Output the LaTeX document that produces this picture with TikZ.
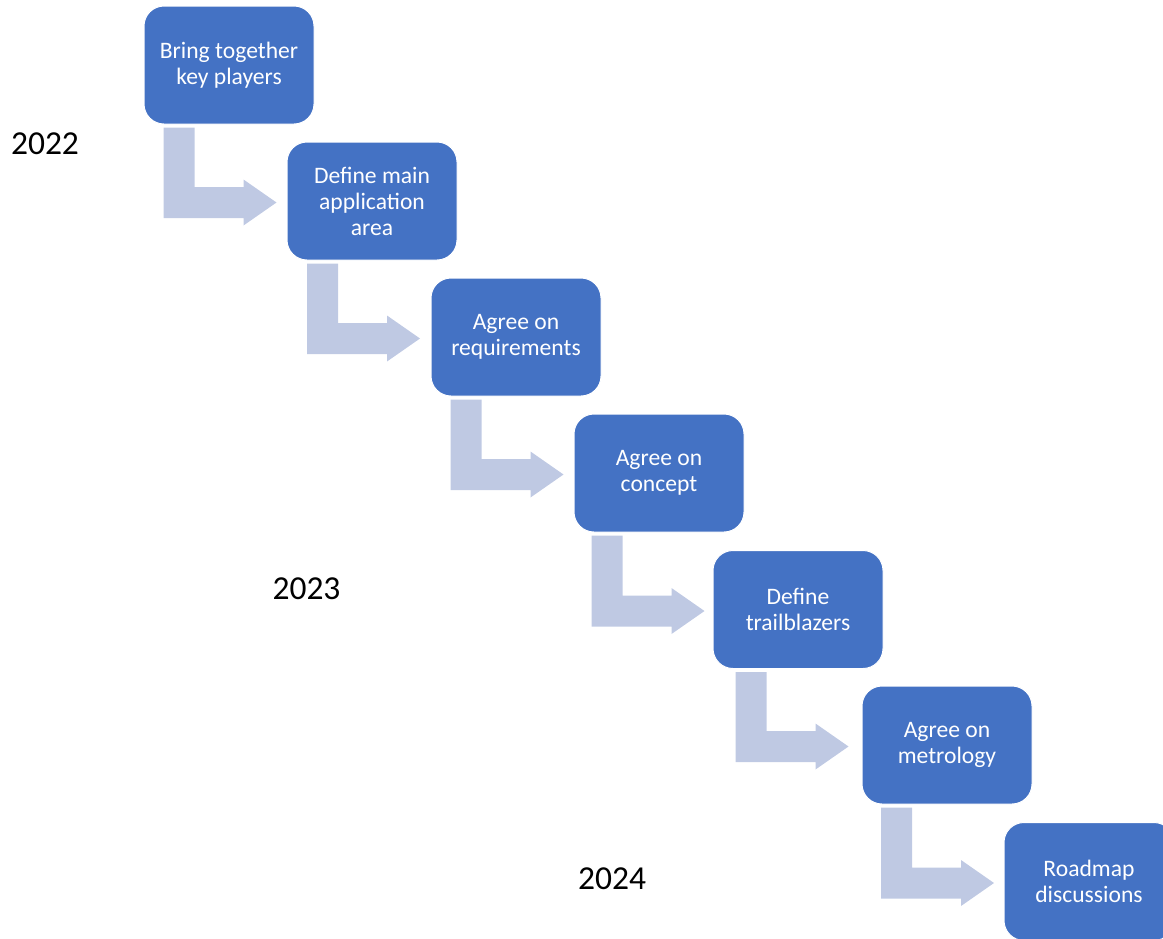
\documentclass[tikz,border=0pt]{standalone}
\usepackage{fontspec}
\setmainfont{Carlito}
\usetikzlibrary{calc}
\definecolor{step-blue}{RGB}{68, 114, 196}
\definecolor{bend-blue}{RGB}{191, 201, 227}

\begin{document}
\begin{tikzpicture}[x=1pt,y=-1pt,
    stepbox/.style={rectangle, rounded corners=20pt, fill=step-blue, draw=white,
        line width=1pt, minimum width=170pt, minimum height=118pt, inner sep=0pt,
        align=center, text=white, font=\fontsize{23.6}{26}\selectfont},
    bendarrow/.style={fill=bend-blue},
    yearlabel/.style={anchor=base, font=\fontsize{33.5}{40}\selectfont}]
\useasboundingbox (0,0) rectangle (1163,938);

% steps
\node[stepbox] (s1) at (229,65) {Bring together\\key players};
\node[stepbox] (s2) at (372,201) {Define main\\application\\area};
\node[stepbox] (s3) at (516,337) {Agree on\\requirements};
\node[stepbox] (s4) at (659,473) {Agree on\\concept};
\node[stepbox] (s5) at (798,609.5) {Define\\trailblazers};
\node[stepbox] (s6) at (947,745) {Agree on\\metrology};
\node[stepbox] (s7) at (1089,881.5) {Roadmap\\discussions};

% bent arrows between steps
\foreach \a/\b in {s1/s2,s2/s3,s3/s4,s4/s5,s5/s6,s6/s7}
    \fill[bendarrow] let \p1=(\a.south west), \p2=(\b.west),
        \p3=($(\a.south west)!0.5!(\b.west)$) in
        (\x3-51.5pt,\y1-3pt) -- (\x3-20.5pt,\y1-3pt) -- (\x3-20.5pt,\y2+14pt)
        -- (\x3+28.5pt,\y2+14pt) -- (\x3+28.5pt,\y2+21.5pt) -- (\x3+61.5pt,\y2-1.5pt)
        -- (\x3+28.5pt,\y2-24.5pt) -- (\x3+28.5pt,\y2-17pt) -- (\x3-51.5pt,\y2-17pt) -- cycle;

% years
\node[yearlabel] (y2022) at (45,154) {2022};
\node[yearlabel] (y2023) at (306.5,599) {2023};
\node[yearlabel] (y2024) at (612,889) {2024};
\end{tikzpicture}
\end{document}
